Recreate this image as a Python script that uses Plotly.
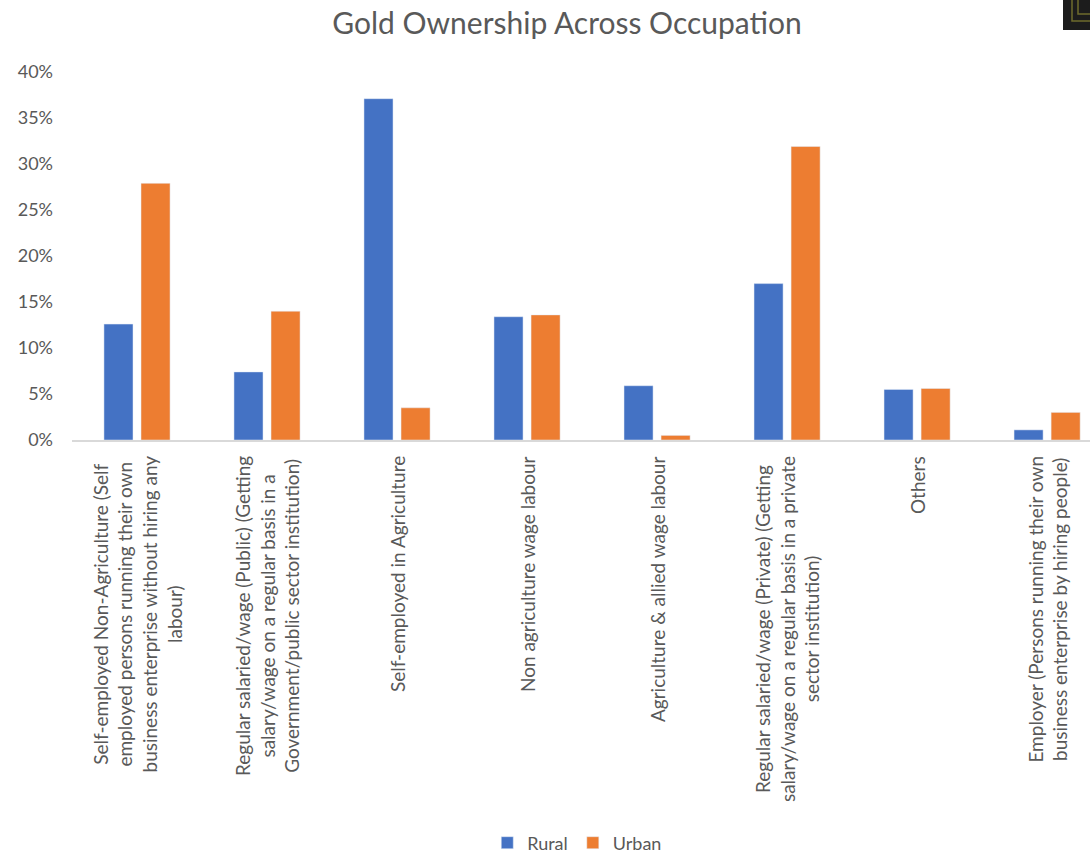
import plotly.graph_objects as go

# Occupation categories (display labels wrapped over several lines)
occupations = [
    "Self-employed Non-Agriculture (Self<br>employed persons running their own<br>business enterprise without hiring any<br>labour)",
    "Regular salaried/wage (Public) (Getting<br>salary/wage on a regular basis in a<br>Government/public sector institution)",
    "Self-employed in Agriculture",
    "Non agriculture wage labour",
    "Agriculture & allied wage labour",
    "Regular salaried/wage (Private) (Getting<br>salary/wage on a regular basis in a private<br>sector institution)",
    "Others",
    "Employer (Persons running their own<br>business enterprise by hiring people)",
]

# Share of households owning gold
rural = [0.126, 0.074, 0.371, 0.134, 0.059, 0.170, 0.055, 0.011]
urban = [0.279, 0.140, 0.035, 0.136, 0.005, 0.319, 0.056, 0.030]

y_ticks = [0, 0.05, 0.10, 0.15, 0.20, 0.25, 0.30, 0.35, 0.40]

W, H = 1090, 856
ML, MR, MT, MB = 72, 0, 72, 416
FONT = "Lato"
GREY = "#595959"

fig = go.Figure()
fig.add_trace(go.Bar(name="Rural", x=occupations, y=rural, marker_color="#4472C4"))
fig.add_trace(go.Bar(name="Urban", x=occupations, y=urban, marker_color="#ED7D31"))

# Category labels set vertically under the axis, lines centred like a wrapped cell
for occ in occupations:
    fig.add_annotation(
        x=occ, y=0, xref="x", yref="y",
        text=occ, textangle=-90, align="center",
        xanchor="center", yanchor="top", yshift=-14,
        showarrow=False, font=dict(family=FONT, size=19, color=GREY),
    )

# Small badge in the top-right corner
pw = W - ML - MR
ph = H - MT - MB
def px_x(p):
    return (p - ML) / pw
def px_y(p):
    return 1 - (p - MT) / ph

fig.add_shape(type="rect", xref="paper", yref="paper",
              x0=px_x(1063), x1=px_x(1092), y0=px_y(30), y1=px_y(-2),
              fillcolor="#1c1c1c", line_width=0, layer="above")
for xv, yv in [(1072, 21), (1078, 14)]:
    fig.add_shape(type="path", xref="paper", yref="paper",
                  path=f"M {px_x(xv)},{px_y(-2)} L {px_x(xv)},{px_y(yv)} L {px_x(1092)},{px_y(yv)}",
                  line=dict(color="#6e6b2c", width=1.5), layer="above")

fig.update_layout(
    width=W, height=H,
    margin=dict(l=ML, r=MR, t=MT, b=MB, autoexpand=False),
    paper_bgcolor="white", plot_bgcolor="white",
    font=dict(family=FONT, color=GREY),
    title=dict(text="Gold Ownership Across Occupation", x=567 / W, xanchor="center",
               y=1 - 23 / H, yanchor="middle", yref="container",
               font=dict(family=FONT, size=30, color=GREY)),
    barmode="group", bargap=0.43, bargroupgap=0.216,
    legend=dict(orientation="h", x=541 / W, xanchor="center", y=1 - 843 / H,
                yanchor="middle", yref="container",
                font=dict(family=FONT, size=18, color=GREY), itemwidth=30),
    showlegend=True,
)
fig.update_xaxes(showticklabels=False, showline=True, linecolor="#d9d9d9", linewidth=1.5,
                 range=[-0.5, 7.33], showgrid=False, ticks="", zeroline=False)
fig.update_yaxes(range=[0, 0.40], tickvals=y_ticks, tickformat=".0%", showgrid=False,
                 zeroline=False, showline=False, ticks="", ticklabelstandoff=18,
                 tickfont=dict(family=FONT, size=18, color=GREY))

fig.write_html("out.html")
